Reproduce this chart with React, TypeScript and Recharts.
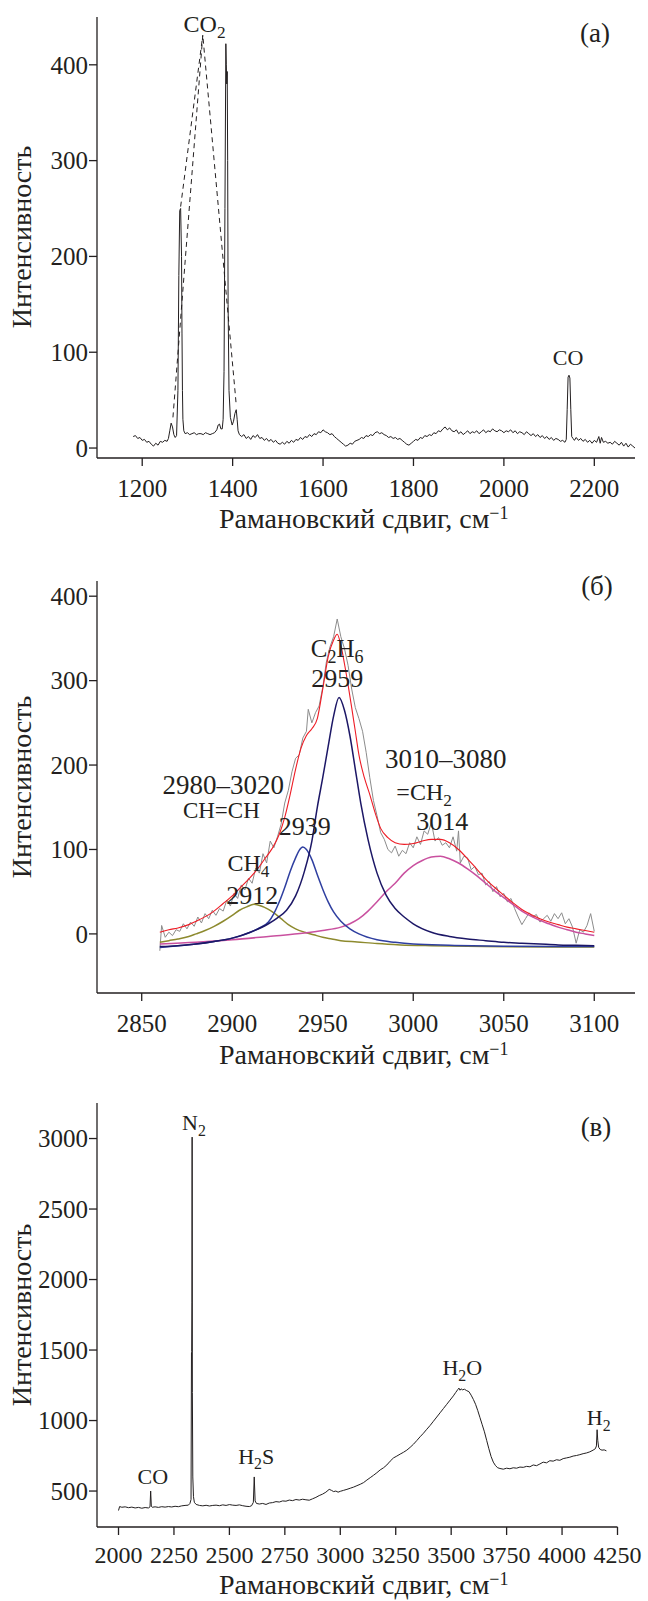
import React from 'react';
import { ComposedChart, Line, XAxis, YAxis, ReferenceDot } from 'recharts';

const FONT = '"Liberation Serif", "Times New Roman", serif';
const INK = '#231f20';

// (а) spectrum, [shift, intensity]
const specA: [number, number][] = [
  [1180, 12], [1185, 13], [1190, 10], [1195, 11], [1200, 8], [1205, 9], [1210, 6], [1215, 7],
  [1220, 4], [1225, 2], [1230, 5], [1235, 3], [1240, 7], [1245, 6], [1250, 8], [1255, 7],
  [1258, 10], [1261, 18], [1264, 26], [1267, 22], [1270, 14], [1273, 11], [1276, 13], [1279, 60],
  [1281, 180], [1283, 248], [1285, 250], [1287, 200], [1288, 120], [1289, 60], [1290, 30], [1292, 18],
  [1295, 15], [1300, 16], [1305, 14], [1310, 15], [1315, 16], [1320, 14], [1325, 15], [1330, 15],
  [1335, 14], [1340, 16], [1345, 15], [1350, 14], [1355, 15], [1360, 16], [1365, 19], [1368, 24],
  [1371, 25], [1374, 20], [1377, 20], [1379, 30], [1381, 80], [1383, 250], [1385, 422], [1386, 400],
  [1387, 380], [1388, 393], [1389, 300], [1390, 150], [1392, 60], [1395, 32], [1399, 24], [1402, 28],
  [1405, 36], [1408, 40], [1410, 30], [1412, 18], [1415, 14], [1420, 12], [1425, 14], [1430, 10],
  [1435, 12], [1440, 9], [1445, 13], [1450, 11], [1455, 14], [1460, 10], [1465, 11], [1470, 8],
  [1475, 10], [1480, 7], [1485, 9], [1490, 6], [1495, 8], [1500, 5], [1505, 4], [1510, 6],
  [1515, 4], [1520, 7], [1525, 5], [1530, 8], [1535, 6], [1540, 9], [1545, 8], [1550, 11],
  [1555, 9], [1560, 12], [1565, 11], [1570, 14], [1575, 12], [1580, 15], [1585, 14], [1590, 17],
  [1595, 16], [1600, 19], [1605, 17], [1610, 16], [1615, 14], [1620, 15], [1625, 12], [1630, 10],
  [1635, 8], [1640, 6], [1645, 4], [1650, 2], [1655, 3], [1660, 5], [1665, 4], [1670, 7],
  [1675, 8], [1680, 9], [1685, 11], [1690, 10], [1695, 13], [1700, 12], [1705, 14], [1710, 13],
  [1715, 16], [1720, 17], [1725, 15], [1730, 16], [1735, 14], [1740, 13], [1745, 11], [1750, 12],
  [1755, 10], [1760, 11], [1765, 9], [1770, 10], [1775, 8], [1780, 6], [1785, 4], [1790, 3],
  [1795, 5], [1800, 7], [1805, 9], [1810, 8], [1815, 11], [1820, 10], [1825, 13], [1830, 12],
  [1835, 14], [1840, 13], [1845, 16], [1850, 15], [1855, 18], [1860, 17], [1865, 20], [1870, 22],
  [1875, 19], [1880, 21], [1885, 18], [1890, 17], [1895, 19], [1900, 15], [1905, 17], [1910, 14],
  [1915, 16], [1920, 18], [1925, 15], [1930, 17], [1935, 16], [1940, 18], [1945, 15], [1950, 17],
  [1955, 19], [1960, 16], [1965, 18], [1970, 17], [1975, 20], [1980, 18], [1985, 17], [1990, 19],
  [1995, 18], [2000, 16], [2005, 18], [2010, 17], [2015, 19], [2020, 16], [2025, 18], [2030, 15],
  [2035, 17], [2040, 16], [2045, 14], [2050, 17], [2055, 15], [2060, 13], [2065, 15], [2070, 12],
  [2075, 14], [2080, 11], [2085, 13], [2090, 10], [2095, 12], [2100, 9], [2105, 11], [2110, 8],
  [2115, 10], [2120, 9], [2125, 7], [2130, 8], [2135, 6], [2138, 9], [2140, 40], [2142, 74],
  [2144, 76], [2146, 73], [2148, 40], [2150, 12], [2153, 10], [2156, 8], [2160, 11], [2165, 8],
  [2170, 10], [2175, 7], [2180, 9], [2185, 6], [2190, 8], [2195, 5], [2200, 8], [2205, 6],
  [2210, 12], [2213, 5], [2216, 11], [2220, 6], [2225, 7], [2230, 5], [2235, 6], [2240, 4],
  [2245, 7], [2250, 5], [2255, 3], [2260, 6], [2265, 2], [2270, 5], [2275, 1], [2280, 4],
  [2285, 2], [2290, 0],
];
// dashed CO2 guide lines
const co2Outer: [number, number][] = [[1268, 32], [1334, 431], [1408, 45]];
const co2Inner: [number, number][] = [[1285, 252], [1334, 431]];

// (б) fit of the C–H region
const measuredB: [number, number][] = [
  [2860, -20], [2861, 10], [2863, -4], [2865, 2], [2867, -2], [2869, 5], [2871, 3], [2873, 12],
  [2875, 6], [2877, 14], [2879, 9], [2881, 20], [2883, 13], [2885, 24], [2887, 18], [2889, 28],
  [2891, 22], [2893, 30], [2895, 27], [2897, 40], [2899, 33], [2901, 48], [2903, 42], [2905, 58],
  [2907, 52], [2909, 66], [2911, 60], [2913, 78], [2915, 72], [2917, 95], [2919, 84], [2921, 110],
  [2923, 102], [2925, 115], [2927, 130], [2929, 155], [2931, 170], [2933, 192], [2935, 208], [2937, 212],
  [2939, 232], [2941, 240], [2942, 266], [2944, 250], [2946, 262], [2948, 270], [2950, 292], [2952, 322],
  [2954, 340], [2956, 352], [2958, 373], [2960, 352], [2962, 338], [2964, 318], [2966, 290], [2968, 268],
  [2970, 255], [2972, 240], [2974, 215], [2976, 185], [2978, 158], [2980, 140], [2982, 120], [2984, 112],
  [2986, 100], [2988, 96], [2990, 104], [2992, 92], [2994, 99], [2996, 95], [2998, 108], [3000, 102],
  [3002, 115], [3004, 106], [3006, 122], [3008, 118], [3010, 132], [3012, 110], [3014, 114], [3016, 105],
  [3018, 108], [3020, 102], [3022, 115], [3024, 98], [3025, 122], [3026, 84], [3028, 92], [3030, 90],
  [3032, 76], [3034, 80], [3036, 70], [3038, 72], [3040, 58], [3042, 62], [3044, 50], [3046, 56],
  [3048, 44], [3050, 48], [3052, 38], [3054, 42], [3056, 30], [3058, 20], [3060, 11], [3062, 18],
  [3064, 25], [3066, 20], [3068, 23], [3070, 14], [3072, 18], [3074, 22], [3076, 15], [3078, 24],
  [3080, 18], [3082, 25], [3084, 12], [3086, 18], [3088, 8], [3090, -11], [3092, 5], [3094, 2],
  [3096, 10], [3098, 24], [3100, 3],
];
const fitSum: [number, number][] = [
  [2860, 2], [2865, 5], [2870, 7], [2876, 11], [2882, 17], [2888, 24], [2895, 36], [2900, 45],
  [2905, 56], [2910, 67], [2914, 77], [2918, 89], [2922, 101], [2926, 118], [2929, 138], [2932, 165],
  [2935, 195], [2938, 220], [2941, 235], [2944, 243], [2947, 255], [2950, 290], [2953, 328], [2956, 348],
  [2958, 355], [2960, 342], [2962, 320], [2964, 295], [2966, 268], [2968, 240], [2970, 212], [2973, 185],
  [2976, 165], [2979, 143], [2982, 125], [2986, 114], [2990, 108], [2995, 106], [3000, 107], [3005, 110],
  [3010, 112], [3015, 112], [3020, 108], [3025, 100], [3030, 89], [3035, 77], [3040, 65], [3045, 55],
  [3050, 46], [3055, 37], [3060, 29], [3065, 23], [3070, 18], [3075, 14], [3080, 11], [3085, 8],
  [3090, 6], [3095, 4], [3100, 2],
];
const band2912: [number, number][] = [
  [2860, -10], [2865, -8], [2870, -6], [2876, -3], [2880, 0], [2885, 4], [2890, 9], [2895, 15],
  [2900, 22], [2904, 28], [2908, 32], [2912, 35], [2916, 33], [2920, 29], [2923, 25], [2927, 18],
  [2931, 11], [2935, 6], [2940, 2], [2945, -1], [2950, -4], [2955, -6], [2960, -8], [2969, -9.5],
  [2980, -11.5], [2993, -13], [3010, -14], [3040, -15], [3100, -15.5],
];
const band2939: [number, number][] = [
  [2860, -16], [2870, -14], [2880, -12], [2890, -9], [2900, -5], [2905, -2], [2910, 2], [2915, 7],
  [2920, 14], [2923, 24], [2926, 38], [2929, 55], [2932, 74], [2935, 90], [2937, 99], [2939, 103],
  [2941, 100], [2944, 88], [2947, 70], [2950, 53], [2953, 38], [2956, 26], [2960, 15], [2965, 6],
  [2970, 0], [2980, -7], [2990, -10], [3000, -12], [3020, -13.5], [3050, -14.5], [3100, -15],
];
const band2959: [number, number][] = [
  [2860, -15], [2870, -14], [2880, -12], [2890, -9], [2900, -5], [2910, 2], [2920, 12], [2925, 19],
  [2930, 28], [2935, 45], [2940, 75], [2944, 110], [2947, 150], [2950, 185], [2953, 222], [2956, 258],
  [2959, 280], [2962, 265], [2965, 235], [2968, 195], [2971, 155], [2975, 112], [2980, 72], [2985, 46],
  [2990, 30], [2995, 20], [3000, 12], [3010, 2], [3020, -3], [3030, -6], [3040, -8], [3050, -10],
  [3060, -11], [3070, -12], [3080, -13], [3090, -13.5], [3100, -14],
];
const band3014: [number, number][] = [
  [2860, -12], [2880, -10], [2900, -7], [2920, -3], [2940, 1], [2950, 4], [2960, 8], [2965, 12],
  [2970, 18], [2975, 27], [2980, 38], [2985, 50], [2990, 60], [2995, 72], [3000, 81], [3005, 87],
  [3010, 91], [3015, 92], [3020, 89], [3025, 84], [3030, 77], [3035, 69], [3040, 60], [3045, 51],
  [3050, 43], [3055, 35], [3060, 27], [3065, 21], [3070, 16], [3075, 12], [3080, 8], [3085, 5],
  [3090, 2], [3095, 0], [3100, -2],
];

// (в) wide spectrum
const specC: [number, number][] = [
  [2000, 362], [2005, 390], [2015, 385], [2030, 388], [2045, 382], [2060, 386], [2075, 380], [2090, 384],
  [2105, 378], [2120, 383], [2135, 380], [2142, 388], [2145, 500], [2148, 392], [2152, 385], [2165, 388],
  [2180, 384], [2195, 389], [2210, 386], [2225, 390], [2240, 387], [2255, 392], [2270, 389], [2285, 395],
  [2300, 398], [2315, 400], [2322, 412], [2327, 440], [2329, 1480], [2330, 1490], [2331, 1840], [2332, 3010],
  [2333, 1200], [2335, 600], [2338, 460], [2342, 420], [2350, 405], [2365, 398], [2380, 395], [2395, 399],
  [2410, 394], [2425, 398], [2440, 400], [2455, 396], [2470, 402], [2485, 398], [2500, 404], [2515, 400],
  [2530, 398], [2545, 402], [2560, 396], [2575, 392], [2590, 390], [2600, 396], [2608, 420], [2612, 600],
  [2616, 430], [2622, 412], [2635, 408], [2650, 412], [2665, 405], [2680, 415], [2695, 418], [2710, 425],
  [2725, 422], [2740, 430], [2755, 428], [2770, 436], [2785, 432], [2800, 440], [2815, 436], [2830, 442],
  [2845, 438], [2860, 435], [2875, 445], [2890, 455], [2905, 468], [2920, 478], [2935, 492], [2950, 512],
  [2960, 505], [2970, 496], [2980, 500], [2990, 492], [3000, 498], [3015, 505], [3030, 512], [3045, 520],
  [3060, 528], [3075, 538], [3090, 548], [3105, 560], [3120, 578], [3135, 595], [3150, 612], [3165, 630],
  [3180, 650], [3195, 665], [3210, 685], [3225, 712], [3240, 735], [3255, 748], [3270, 762], [3285, 775],
  [3300, 790], [3315, 810], [3330, 832], [3345, 858], [3360, 885], [3375, 910], [3390, 938], [3405, 965],
  [3420, 995], [3435, 1025], [3450, 1055], [3465, 1085], [3480, 1115], [3495, 1145], [3510, 1175], [3520, 1198],
  [3530, 1220], [3535, 1230], [3540, 1215], [3545, 1225], [3550, 1218], [3560, 1222], [3570, 1212], [3580, 1205],
  [3590, 1180], [3600, 1150], [3610, 1115], [3620, 1070], [3630, 1020], [3640, 970], [3650, 920], [3660, 860],
  [3670, 800], [3680, 745], [3690, 705], [3700, 680], [3710, 665], [3720, 660], [3735, 655], [3750, 662],
  [3765, 658], [3780, 665], [3795, 662], [3810, 670], [3825, 668], [3840, 675], [3855, 672], [3870, 685],
  [3885, 680], [3900, 692], [3915, 705], [3930, 700], [3945, 715], [3960, 712], [3975, 722], [3990, 718],
  [4005, 730], [4020, 735], [4035, 740], [4050, 748], [4065, 752], [4080, 758], [4095, 765], [4110, 770],
  [4125, 778], [4140, 790], [4150, 800], [4155, 820], [4158, 935], [4161, 860], [4165, 810], [4172, 795],
  [4180, 790], [4190, 792], [4200, 785],
];

const ticksAX = [1200, 1400, 1600, 1800, 2000, 2200];
const ticksAY = [0, 100, 200, 300, 400];
const ticksBX = [2850, 2900, 2950, 3000, 3050, 3100];
const ticksBY = [0, 100, 200, 300, 400];
const ticksCX = [2000, 2250, 2500, 2750, 3000, 3250, 3500, 3750, 4000, 4250];
const ticksCY = [500, 1000, 1500, 2000, 2500, 3000];

type Part = [string, 'sub'?];
type Note = { x: number; y: number; parts: Part[]; size: number };

const notesA: Note[] = [
  { x: 1338, y: 434, parts: [['CO'], ['2', 'sub']], size: 24 },
  { x: 2142, y: 87, parts: [['CO']], size: 22 },
];
const notesB: Note[] = [
  { x: 2958, y: 328, parts: [['C'], ['2', 'sub'], ['H'], ['6', 'sub']], size: 25 },
  { x: 2958, y: 292, parts: [['2959']], size: 26 },
  { x: 2895, y: 166, parts: [['2980–3020']], size: 27 },
  { x: 2894, y: 137, parts: [['CH=CH']], size: 23 },
  { x: 2940, y: 117, parts: [['2939']], size: 26 },
  { x: 2909, y: 74, parts: [['CH'], ['4', 'sub']], size: 24 },
  { x: 2911, y: 36, parts: [['2912']], size: 26 },
  { x: 3018, y: 196, parts: [['3010–3080']], size: 27 },
  { x: 3006, y: 159, parts: [['=CH'], ['2', 'sub']], size: 24 },
  { x: 3016, y: 123, parts: [['3014']], size: 26 },
];
const notesC: Note[] = [
  { x: 2340, y: 3059, parts: [['N'], ['2', 'sub']], size: 22 },
  { x: 2155, y: 552, parts: [['CO']], size: 22 },
  { x: 2621, y: 694, parts: [['H'], ['2', 'sub'], ['S']], size: 22 },
  { x: 3550, y: 1320, parts: [['H'], ['2', 'sub'], ['O']], size: 22 },
  { x: 4165, y: 966, parts: [['H'], ['2', 'sub']], size: 22 },
];

const pts = (arr: [number, number][]) => arr.map(([x, y]) => ({ x, y }));

const noteShape = (n: Note) => (p: any) => {
  const s = n.size;
  let prevSub = false;
  return (
    <text x={p.cx} y={p.cy} textAnchor="middle" fontFamily={FONT} fontSize={s} fill={INK}>
      {n.parts.map(([t, k], i) => {
        const isSub = k === 'sub';
        const dy = (isSub ? s * 0.25 : 0) - (prevSub ? s * 0.25 : 0);
        prevSub = isSub;
        return (
          <tspan key={i} dy={dy} fontSize={isSub ? s * 0.72 : s}>
            {t}
          </tspan>
        );
      })}
    </text>
  );
};

type PanelProps = {
  top: number;
  height: number;
  marginTop: number;
  marginRight: number;
  xAxisHeight: number;
  xDomain: [number, number];
  yDomain: [number, number];
  xTicks: number[];
  yTicks: number[];
  xTickFont?: number;
  xTickMargin?: number;
  notes: Note[];
  children: React.ReactNode;
};

function Panel(props: PanelProps) {
  const yTick = { fill: INK, fontSize: 25, fontFamily: FONT };
  const xTick = { fill: INK, fontSize: props.xTickFont ?? 25, fontFamily: FONT };
  return (
    <div style={{ position: 'absolute', left: 0, top: props.top }}>
      <ComposedChart
        width={648}
        height={props.height}
        margin={{ top: props.marginTop, right: props.marginRight, bottom: 0, left: 0 }}
      >
        <XAxis
          type="number"
          dataKey="x"
          domain={props.xDomain}
          ticks={props.xTicks}
          interval={0}
          allowDataOverflow
          height={props.xAxisHeight}
          tickSize={8}
          tickMargin={props.xTickMargin ?? 13}
          tick={xTick}
          axisLine={{ stroke: INK, strokeWidth: 1.3 }}
          tickLine={{ stroke: INK, strokeWidth: 1.3 }}
        />
        <YAxis
          type="number"
          dataKey="y"
          domain={props.yDomain}
          ticks={props.yTicks}
          interval={0}
          allowDataOverflow
          width={97}
          tickSize={8}
          tickMargin={1}
          tick={yTick}
          axisLine={{ stroke: INK, strokeWidth: 1.3 }}
          tickLine={{ stroke: INK, strokeWidth: 1.3 }}
        />
        {props.children}
        {props.notes.map((n, i) => (
          <ReferenceDot key={i} x={n.x} y={n.y} r={0} ifOverflow="visible" shape={noteShape(n)} />
        ))}
      </ComposedChart>
    </div>
  );
}

const line = (data: [number, number][], stroke: string, width = 1, type: 'linear' | 'monotone' = 'linear', dash?: string) => (
  <Line
    data={pts(data)}
    dataKey="y"
    type={type}
    stroke={stroke}
    strokeWidth={width}
    strokeDasharray={dash}
    dot={false}
    activeDot={false}
    isAnimationActive={false}
  />
);

function XTitle({ y }: { y: number }) {
  return (
    <text x={219} y={y} fontFamily={FONT} fontSize={28} fill={INK}>
      Рамановский сдвиг, см
      <tspan dy={-9} fontSize={18}>−1</tspan>
    </text>
  );
}

function YTitle({ cy }: { cy: number }) {
  return (
    <text
      x={31}
      y={cy}
      transform={`rotate(-90, 31, ${cy})`}
      textAnchor="middle"
      fontFamily={FONT}
      fontSize={28}
      fill={INK}
    >
      Интенсивность
    </text>
  );
}

export default function App() {
  return (
    <div style={{ position: 'absolute', left: 0, top: 0, width: 648, height: 1601, background: '#fff' }}>
      <Panel
        top={0}
        height={540}
        marginTop={17}
        marginRight={13}
        xAxisHeight={82}
        xDomain={[1100, 2290]}
        yDomain={[-10.4, 449.9]}
        xTicks={ticksAX}
        yTicks={ticksAY}
        notes={notesA}
      >
        {line(co2Outer, INK, 1, 'linear', '5 4')}
        {line(co2Inner, INK, 1, 'linear', '5 4')}
        {line(specA, INK, 1)}
      </Panel>
      <Panel
        top={540}
        height={540}
        marginTop={41}
        marginRight={13}
        xAxisHeight={87}
        xDomain={[2825.3, 3122.5]}
        yDomain={[-70, 418]}
        xTicks={ticksBX}
        yTicks={ticksBY}
        notes={notesB}
      >
        {line(measuredB, '#8c8c8c', 1)}
        {line(band2912, '#8d8a2e', 1.5, 'monotone')}
        {line(band3014, '#c9509f', 1.5, 'monotone')}
        {line(band2939, '#2f3fa0', 1.5, 'monotone')}
        {line(band2959, '#1c1766', 1.5, 'monotone')}
        {line(fitSum, '#ee1c25', 1.1, 'monotone')}
      </Panel>
      <Panel
        top={1080}
        height={521}
        marginTop={23}
        marginRight={30.5}
        xAxisHeight={74}
        xDomain={[1903, 4250]}
        yDomain={[245, 3252]}
        xTicks={ticksCX}
        yTicks={ticksCY}
        xTickFont={24}
        xTickMargin={11}
        notes={notesC}
      >
        {line(specC, INK, 1)}
      </Panel>
      <svg
        width={648}
        height={1601}
        style={{ position: 'absolute', left: 0, top: 0, pointerEvents: 'none' }}
      >
        <XTitle y={528} />
        <XTitle y={1064} />
        <XTitle y={1594} />
        <YTitle cy={237} />
        <YTitle cy={787} />
        <YTitle cy={1315} />
        <text x={595} y={42} textAnchor="middle" fontFamily={FONT} fontSize={27} fill={INK}>(а)</text>
        <text x={597} y={595} textAnchor="middle" fontFamily={FONT} fontSize={27} fill={INK}>(б)</text>
        <text x={596} y={1136} textAnchor="middle" fontFamily={FONT} fontSize={27} fill={INK}>(в)</text>
      </svg>
    </div>
  );
}
